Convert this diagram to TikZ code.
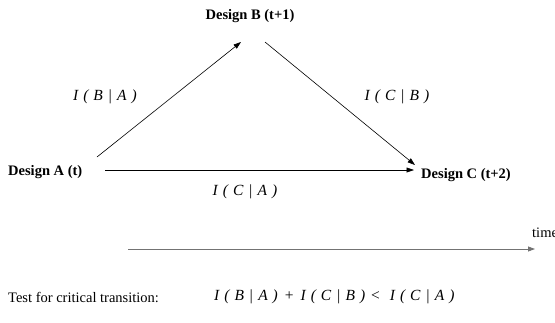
\documentclass[tikz,border=0pt]{standalone}
\usepackage{fontspec}
\setmainfont{Liberation Serif}
\usetikzlibrary{arrows.meta}
\newcommand{\sg}{\hspace{5pt}}
\newcommand{\cond}[2]{I\sg(\sg#1\sg|\sg#2\sg)}
\begin{document}
\begin{tikzpicture}[x=1pt,y=-1pt,
  design/.style={font=\fontsize{14.5}{16}\selectfont\bfseries, inner sep=0pt},
  lbl/.style={font=\fontsize{15.5}{17}\selectfont\itshape, inner sep=0pt},
  plain/.style={font=\fontsize{14.5}{16}\selectfont, inner sep=0pt},
  conn/.style={line width=0.6pt, -{Triangle[length=7.5pt,width=5pt]}},
  timeline/.style={line width=0.8pt, draw=black!55, -{Triangle[length=7pt,width=5pt]}}]
\useasboundingbox (0,0) rectangle (555,322);
\node[design] (B) at (250,16) {Design B (t+1)};
\node[design, anchor=west] (A) at (8,172) {Design A (t)};
\node[design, anchor=west] (C) at (421,175) {Design C (t+2)};
\coordinate (ab0) at (97,157);
\coordinate (ab1) at (241,42);
\coordinate (bc0) at (265,42);
\coordinate (bc1) at (415,165);
\coordinate (ac0) at (105,170);
\coordinate (ac1) at (414,170);
\draw[conn] (ab0) -- (ab1);
\draw[conn] (bc0) -- (bc1);
\draw[conn] (ac0) -- (ac1);
\node[lbl] (lba) at (105,97) {\cond{B}{A}};
\node[lbl] (lcb) at (397,97) {\cond{C}{B}};
\node[lbl] (lca) at (245,192) {\cond{C}{A}};
\coordinate (t0) at (128,249);
\coordinate (t1) at (535,249);
\draw[timeline] (t0) -- (t1);
\node[plain, anchor=west] (time) at (532,233) {time};
\node[plain, anchor=west] (test) at (8,297) {Test for critical transition:};
\node[lbl, anchor=west] (formula) at (214,297) {\cond{B}{A}\hspace{7pt}\upshape+\hspace{7pt}\itshape\cond{C}{B}\hspace{6pt}\upshape<\hspace{10pt}\itshape\cond{C}{A}};
\end{tikzpicture}
\end{document}
